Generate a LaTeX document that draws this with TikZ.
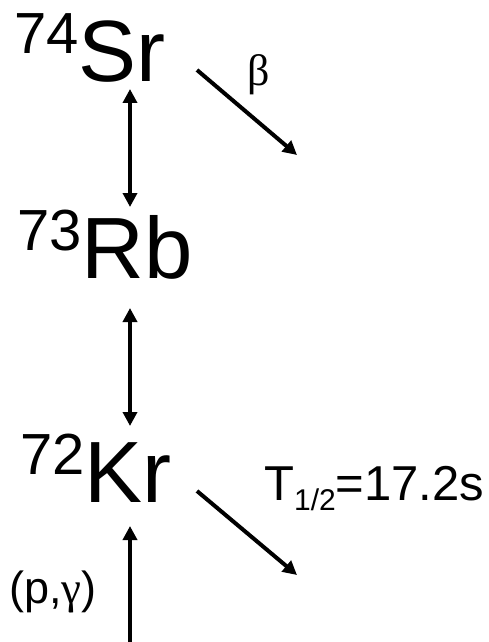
\documentclass[tikz,border=0pt]{standalone}
\usepackage{fontspec}
\setmainfont{Liberation Sans}
\newfontfamily\grk{Liberation Serif}
\usetikzlibrary{arrows.meta}
\newcommand{\isot}[1]{\raisebox{28bp}{\fontsize{58bp}{58bp}\selectfont #1}}
\begin{document}
\begin{tikzpicture}[x=1bp,y=-1bp,
  elem/.style={anchor=base west,inner sep=0pt,font=\fontsize{87bp}{87bp}\selectfont},
  lbl/.style={anchor=base west,inner sep=0pt,font=\fontsize{49bp}{49bp}\selectfont},
  conn/.style={line width=4bp,-{Triangle[length=14bp,width=14bp]}},
  dconn/.style={line width=4bp,{Triangle[length=14bp,width=14bp]}-{Triangle[length=14bp,width=14bp]}}]
\useasboundingbox (0,0) rectangle (489,642);
\node[elem] (Sr) at (14,82) {\isot{74}Sr};
\node[elem] (Rb) at (17,278) {\isot{73}Rb};
\node[elem] (Kr) at (20,502) {\isot{72}Kr};
\node[anchor=center,inner sep=0pt,font=\fontsize{44bp}{44bp}\grk] (beta) at (259,75) {β};
\node[lbl] (thalf) at (264,500) {T\raisebox{-10bp}{\fontsize{30bp}{30bp}\selectfont 1/2}=17.2s};
\node[lbl,font=\fontsize{45bp}{45bp}\selectfont] (pg) at (9,603) {(p,{\grk γ})};
\coordinate (a1t) at (130,89);
\coordinate (a1b) at (130,207);
\coordinate (a2t) at (130,308);
\coordinate (a2b) at (130,426);
\coordinate (a3t) at (130,526);
\coordinate (a3b) at (130,642);
\coordinate (b1s) at (197,70);
\coordinate (b1e) at (297,155);
\coordinate (b2s) at (197,491);
\coordinate (b2e) at (297,575);
\draw[dconn] (a1t) -- (a1b);
\draw[dconn] (a2t) -- (a2b);
\draw[conn] (a3b) -- (a3t);
\draw[conn] (b1s) -- (b1e);
\draw[conn] (b2s) -- (b2e);
\end{tikzpicture}
\end{document}
